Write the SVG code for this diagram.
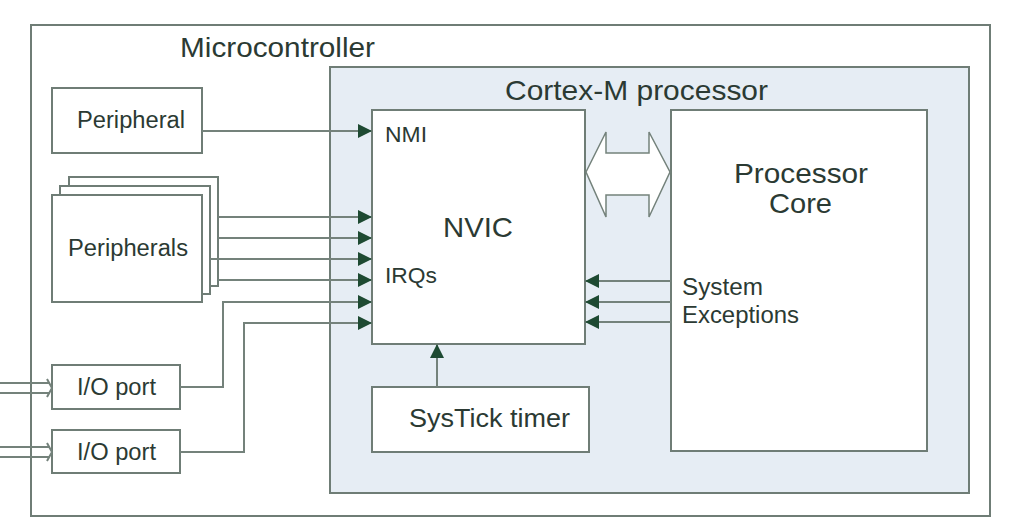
<svg xmlns="http://www.w3.org/2000/svg" width="1024" height="522" viewBox="0 0 1024 522">
<defs>
<style>
.box{fill:#ffffff;stroke:#6f7d76;stroke-width:2}
.cortex{fill:#e6edf4;stroke:#6f7d76;stroke-width:2}
.ln{fill:none;stroke:#74827b;stroke-width:2}
.t{font-family:"Liberation Sans",Arial,sans-serif;fill:#2b3a33}
.s{font-size:23px}
.b{font-size:28px}
</style>
<marker id="ah" markerUnits="userSpaceOnUse" markerWidth="14" markerHeight="14" refX="14" refY="7" orient="auto">
<path d="M0,0 L14,7 L0,14 z" fill="#1e4a32"/>
</marker>
</defs>
<rect width="1024" height="522" fill="#ffffff"/>
<g id="microcontroller">
<rect class="box" x="31" y="25" width="959" height="491"/>
<text class="t b" x="180" y="57" textLength="195" lengthAdjust="spacingAndGlyphs">Microcontroller</text>
</g>
<g id="cortex">
<rect class="cortex" x="330" y="67" width="639" height="426"/>
<text class="t b" x="505" y="100" textLength="263" lengthAdjust="spacingAndGlyphs">Cortex-M processor</text>
</g>
<g id="peripheral">
<rect class="box" x="52" y="88" width="150" height="65"/>
<text class="t s" x="77" y="128" textLength="108" lengthAdjust="spacingAndGlyphs">Peripheral</text>
</g>
<g id="peripherals">
<rect class="box" x="69" y="177" width="149" height="109"/>
<rect class="box" x="60" y="186" width="150" height="108"/>
<rect class="box" x="52" y="195" width="150" height="107"/>
<text class="t s" x="68" y="256" textLength="120" lengthAdjust="spacingAndGlyphs">Peripherals</text>
</g>
<g id="io1">
<rect class="box" x="52" y="365" width="128" height="44"/>
<text class="t s" x="77" y="395" textLength="79" lengthAdjust="spacingAndGlyphs">I/O port</text>
</g>
<g id="io2">
<rect class="box" x="52" y="430" width="128" height="43"/>
<text class="t s" x="77" y="460" textLength="79" lengthAdjust="spacingAndGlyphs">I/O port</text>
</g>
<g id="nvic">
<rect class="box" x="372" y="110" width="213" height="234"/>
<text class="t" font-size="22" x="385" y="142" textLength="42" lengthAdjust="spacingAndGlyphs">NMI</text>
<text class="t b" x="443" y="237" textLength="70" lengthAdjust="spacingAndGlyphs">NVIC</text>
<text class="t" font-size="22" x="385" y="283" textLength="52" lengthAdjust="spacingAndGlyphs">IRQs</text>
</g>
<g id="systick">
<rect class="box" x="372" y="387" width="217" height="65"/>
<text class="t" font-size="26" x="409" y="427" textLength="161" lengthAdjust="spacingAndGlyphs">SysTick timer</text>
</g>
<g id="core">
<rect class="box" x="671" y="110" width="256" height="341"/>
<text class="t b" x="734" y="183" textLength="134" lengthAdjust="spacingAndGlyphs">Processor</text>
<text class="t b" x="769" y="213" textLength="63" lengthAdjust="spacingAndGlyphs">Core</text>
<text class="t s" x="682" y="295" textLength="81" lengthAdjust="spacingAndGlyphs">System</text>
<text class="t s" x="682" y="323" textLength="117" lengthAdjust="spacingAndGlyphs">Exceptions</text>
</g>
<g id="connectors">
<path class="ln" d="M202,131 H372" marker-end="url(#ah)"/>
<path class="ln" d="M218,217 H372" marker-end="url(#ah)"/>
<path class="ln" d="M218,238 H372" marker-end="url(#ah)"/>
<path class="ln" d="M210,259 H372" marker-end="url(#ah)"/>
<path class="ln" d="M218,280 H372" marker-end="url(#ah)"/>
<path class="ln" d="M180,387 H223 V302 H372" marker-end="url(#ah)"/>
<path class="ln" d="M180,452 H244 V323 H372" marker-end="url(#ah)"/>
<path class="ln" d="M437,387 V344" marker-end="url(#ah)"/>
<path class="ln" d="M671,281 H585" marker-end="url(#ah)"/>
<path class="ln" d="M671,302 H585" marker-end="url(#ah)"/>
<path class="ln" d="M671,322 H585" marker-end="url(#ah)"/>
<polygon points="586,172 606,132 606,153 649,153 649,132 670,172 649,217 649,195 606,195 606,217" fill="#ffffff" stroke="#74827b" stroke-width="1.5"/>
<path class="ln" d="M0,383 H50 M0,393 H50 M47,379 L52,388 L47,397"/>
<path class="ln" d="M0,447 H50 M0,457 H50 M47,443 L52,452 L47,461"/>
</g>
</svg>
